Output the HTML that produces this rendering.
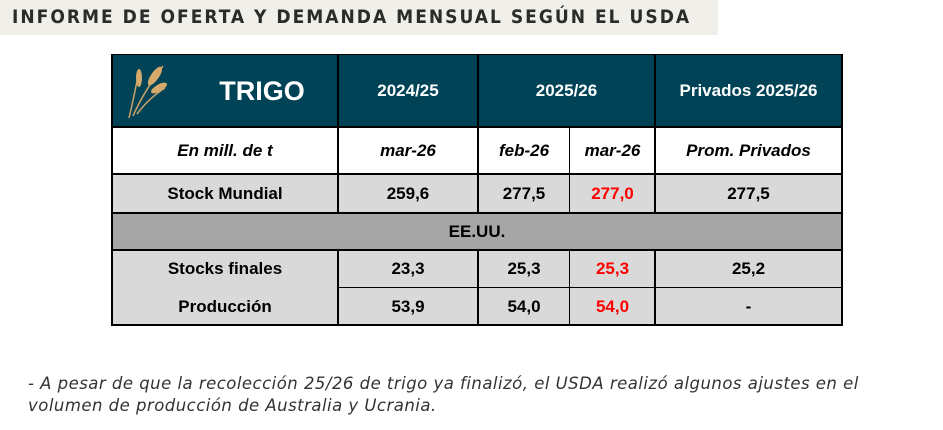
<!DOCTYPE html>
<html><head><meta charset="utf-8"><style>
body{margin:0;width:943px;height:430px;background:#fff;position:relative;overflow:hidden;font-family:"Liberation Sans",Arial,sans-serif}
.band{position:absolute;left:0;top:0;width:718px;height:35px;background:#f1efea}
.title{position:absolute;left:12px;top:6px;font:bold 19px "DejaVu Sans Condensed","Liberation Sans",sans-serif;letter-spacing:2px;color:#2b2b2b;white-space:nowrap}
.c{position:absolute;display:flex;align-items:center;justify-content:center;font-weight:bold;font-size:17px;color:#000;box-sizing:border-box}
.h{background:#004356;color:#fff;font-size:17px}
.i{font-style:italic}
.r{color:#f00}
.vl{position:absolute;background:#000;width:2px}
.hl{position:absolute;background:#000;height:2px}
.note{position:absolute;left:28px;top:373px;font-style:italic;font-size:16.5px;font-family:"DejaVu Sans",sans-serif;color:#333;line-height:22px;letter-spacing:0.48px;white-space:nowrap}
</style></head><body>
<div class="band"></div>
<div class="title">INFORME DE OFERTA Y DEMANDA MENSUAL SEGÚN EL USDA</div>

<div class="c h" style="left:112px;top:55px;width:730px;height:72px"></div>
<svg style="position:absolute;left:125px;top:58px" width="50" height="62" viewBox="0 0 50 62">
<g stroke="#c9a26a" stroke-width="1.5" fill="none"><path d="M4 60 Q10 35 14 12"/><path d="M8 58 Q18 35 38 8"/><path d="M12 56 Q24 40 40 30"/></g>
<g fill="#d4a96a"><ellipse cx="14" cy="20" rx="3" ry="9"/><ellipse cx="30" cy="18" rx="4" ry="11" transform="rotate(35 30 18)"/><ellipse cx="34" cy="30" rx="3.5" ry="9" transform="rotate(60 34 30)"/></g>
</svg>
<div class="c h" style="left:192px;top:55px;width:140px;height:72px;font-size:27px">TRIGO</div>
<div class="c h" style="left:338px;top:55px;width:140px;height:72px">2024/25</div>
<div class="c h" style="left:478px;top:55px;width:177px;height:72px">2025/26</div>
<div class="c h" style="left:655px;top:55px;width:187px;height:72px">Privados 2025/26</div>

<div class="c i" style="left:112px;top:127px;width:226px;height:47px">En mill. de t</div>
<div class="c i" style="left:338px;top:127px;width:140px;height:47px">mar-26</div>
<div class="c i" style="left:478px;top:127px;width:92px;height:47px">feb-26</div>
<div class="c i" style="left:570px;top:127px;width:85px;height:47px">mar-26</div>
<div class="c i" style="left:655px;top:127px;width:187px;height:47px">Prom. Privados</div>

<div class="c" style="left:112px;top:174px;width:730px;height:39px;background:#d9d9d9"></div>
<div class="c" style="left:112px;top:174px;width:226px;height:39px">Stock Mundial</div>
<div class="c" style="left:338px;top:174px;width:140px;height:39px">259,6</div>
<div class="c" style="left:478px;top:174px;width:92px;height:39px">277,5</div>
<div class="c r" style="left:570px;top:174px;width:85px;height:39px">277,0</div>
<div class="c" style="left:655px;top:174px;width:187px;height:39px">277,5</div>

<div class="c" style="left:112px;top:213px;width:730px;height:37px;background:#a6a6a6">EE.UU.</div>

<div class="c" style="left:112px;top:250px;width:730px;height:75px;background:#d9d9d9"></div>
<div class="c" style="left:112px;top:250px;width:226px;height:38px">Stocks finales</div>
<div class="c" style="left:338px;top:250px;width:140px;height:38px">23,3</div>
<div class="c" style="left:478px;top:250px;width:92px;height:38px">25,3</div>
<div class="c r" style="left:570px;top:250px;width:85px;height:38px">25,3</div>
<div class="c" style="left:655px;top:250px;width:187px;height:38px">25,2</div>
<div class="c" style="left:112px;top:288px;width:226px;height:37px">Producción</div>
<div class="c" style="left:338px;top:288px;width:140px;height:37px">53,9</div>
<div class="c" style="left:478px;top:288px;width:92px;height:37px">54,0</div>
<div class="c r" style="left:570px;top:288px;width:85px;height:37px">54,0</div>
<div class="c" style="left:655px;top:288px;width:187px;height:37px">-</div>

<div class="vl" style="left:111px;top:54px;height:272px"></div>
<div class="vl" style="left:337px;top:54px;height:160px"></div>
<div class="vl" style="left:337px;top:249px;height:77px"></div>
<div class="vl" style="left:477px;top:54px;height:160px"></div>
<div class="vl" style="left:477px;top:249px;height:77px"></div>
<div class="vl" style="left:569px;top:127px;height:87px;width:1px"></div>
<div class="vl" style="left:569px;top:249px;height:77px;width:1px"></div>
<div class="vl" style="left:654px;top:54px;height:160px"></div>
<div class="vl" style="left:654px;top:249px;height:77px"></div>
<div class="vl" style="left:841px;top:54px;height:272px"></div>
<div class="hl" style="left:111px;top:54px;width:732px;height:1px"></div>
<div class="hl" style="left:111px;top:126px;width:732px"></div>
<div class="hl" style="left:111px;top:173px;width:732px"></div>
<div class="hl" style="left:111px;top:212px;width:732px"></div>
<div class="hl" style="left:111px;top:249px;width:732px"></div>
<div class="hl" style="left:338px;top:287px;width:504px;height:1px"></div>
<div class="hl" style="left:111px;top:324px;width:732px"></div>

<div class="note">- A pesar de que la recolección 25/26 de trigo ya finalizó, el USDA realizó algunos ajustes en el<br>volumen de producción de Australia y Ucrania.</div>
</body></html>
